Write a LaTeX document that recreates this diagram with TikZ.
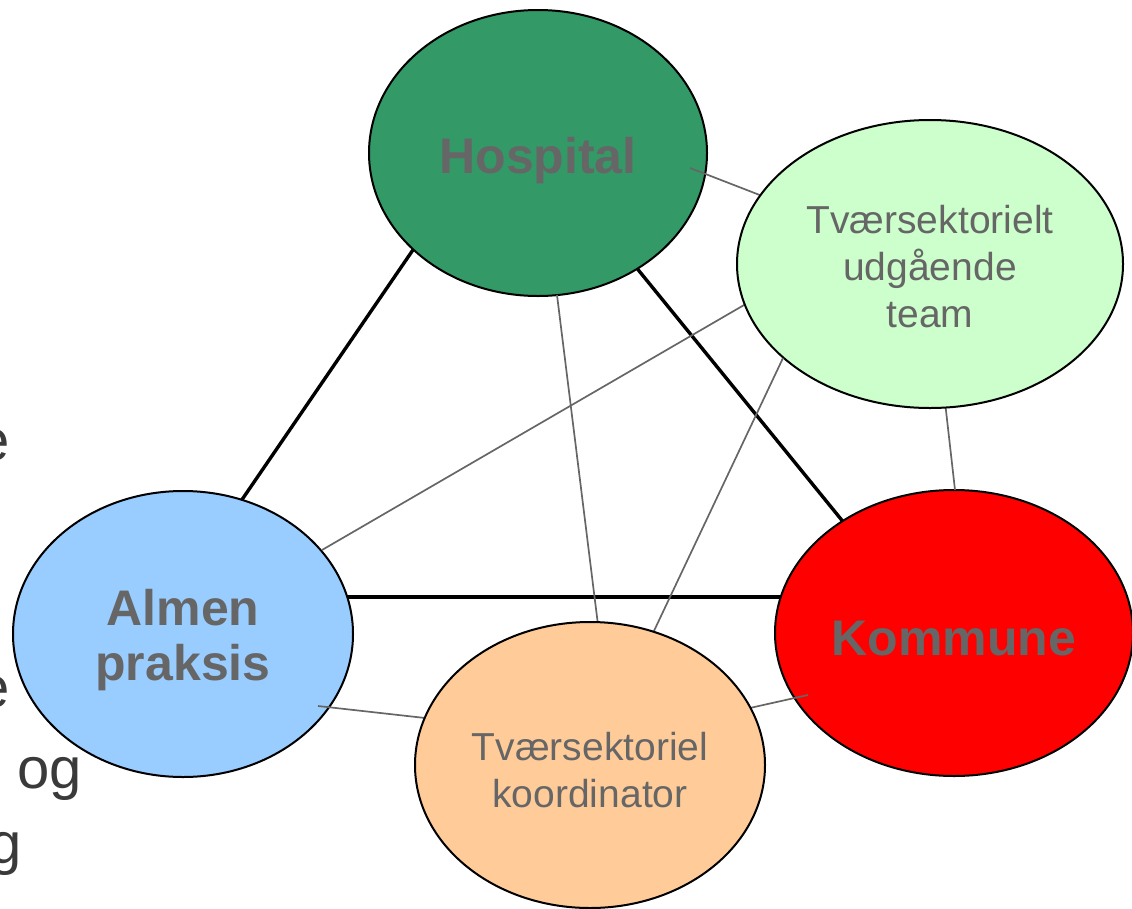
\documentclass[tikz,border=0pt]{standalone}
\usepackage{fontspec}
\setmainfont{Liberation Sans}
\usetikzlibrary{shapes.geometric,calc}

\definecolor{hospgreen}{HTML}{339966}
\definecolor{teamgreen}{HTML}{CCFFCC}
\definecolor{almenblue}{HTML}{99CCFF}
\definecolor{kommred}{HTML}{FF0000}
\definecolor{koordpeach}{HTML}{FFCC99}
\definecolor{labelgrey}{HTML}{666666}
\definecolor{bodygrey}{HTML}{3A3A3A}

% place a label with its first baseline a given distance below the node centre
\newcommand{\basedrop}[2]{\raisebox{-#1}[0pt][0pt]{\begin{tabular}[t]{@{}c@{}}#2\end{tabular}}}

\tikzset{
  unit/.style={ellipse, draw=black, line width=2pt, inner sep=0pt,
    text=labelgrey, align=center},
  boldlabel/.style={font=\fontsize{50}{55}\selectfont\bfseries},
  plainlabel/.style={font=\fontsize{39}{47}\selectfont},
  strong/.style={draw=black, line width=3.4pt},
  weak/.style={draw=labelgrey, line width=1.7pt},
  bodytext/.style={inner sep=0pt, anchor=base east, text=bodygrey,
    font=\fontsize{58}{60}\selectfont}
}

\begin{document}
\begin{tikzpicture}[x=1pt, y=-1pt]
\useasboundingbox (0,0) rectangle (1132,908);

% text of the slide partly hidden behind the diagram
\node[bodytext] (t1) at (10,460) {e};
\node[bodytext] (t2) at (10,707) {e};
\node[bodytext] (t3) at (82,788) {og};
\node[bodytext] (t4) at (22,863) {g};

% positions of the three sectors
\coordinate (hospC) at (538,153);
\coordinate (almenC) at (183,634);
\coordinate (kommC) at (954,633);

% main triangle, behind the three sectors
\draw[strong] ($(hospC)+(-108,72)$) -- ($(almenC)+(43,-111)$);
\draw[strong] ($(hospC)+(80,92)$) -- ($(kommC)+(-92,-88)$);
\draw[strong] ($(almenC)+(142,-37)$) -- ($(kommC)+(-149,-36)$);

% the three sectors
\node[unit, boldlabel, fill=hospgreen, minimum width=338pt, minimum height=286pt]
  (hosp) at (hospC) {\basedrop{20pt}{Hospital}};
\node[unit, boldlabel, fill=almenblue, minimum width=340pt, minimum height=286pt]
  (almen) at (almenC) {\basedrop{-9pt}{Almen\\praksis}};
\node[unit, boldlabel, fill=kommred, minimum width=358pt, minimum height=286pt]
  (komm) at (kommC) {\basedrop{22pt}{Kommune}};

% thin links between all parties
\draw[weak] ($(hosp.center)+(152,15)$) -- ($(hosp.center)+(232,46)$) coordinate (l1);
\draw[weak] ($(hosp.center)+(19,142)$) -- ($(hosp.center)+(61,480)$) coordinate (l2);
\draw[weak] ($(almen.center)+(139,-84)$) -- ($(almen.center)+(580,-340)$) coordinate (l3);
\draw[weak] ($(komm.center)+(1,-143)$) -- ($(komm.center)+(-10,-240)$) coordinate (l4);
\draw[weak] ($(almen.center)+(135,72)$) -- ($(almen.center)+(260,86)$) coordinate (l5);
\draw[weak] ($(komm.center)+(-146,62)$) -- ($(komm.center)+(-240,83)$) coordinate (l6);

% the two cross-sector functions, drawn on top of the thin links
\node[unit, plainlabel, fill=teamgreen, minimum width=386pt, minimum height=288pt]
  (team) at (930,264) {\basedrop{-31pt}{Tværsektorielt\\udgående\\team}};
\draw[weak] ($(team.center)+(-147,94)$) -- ($(team.center)+(-277,369)$) coordinate (l7);
\node[unit, plainlabel, fill=koordpeach, minimum width=350pt, minimum height=286pt]
  (koord) at (590,765) {\basedrop{-5pt}{Tværsektoriel\\koordinator}};
\end{tikzpicture}
\end{document}
